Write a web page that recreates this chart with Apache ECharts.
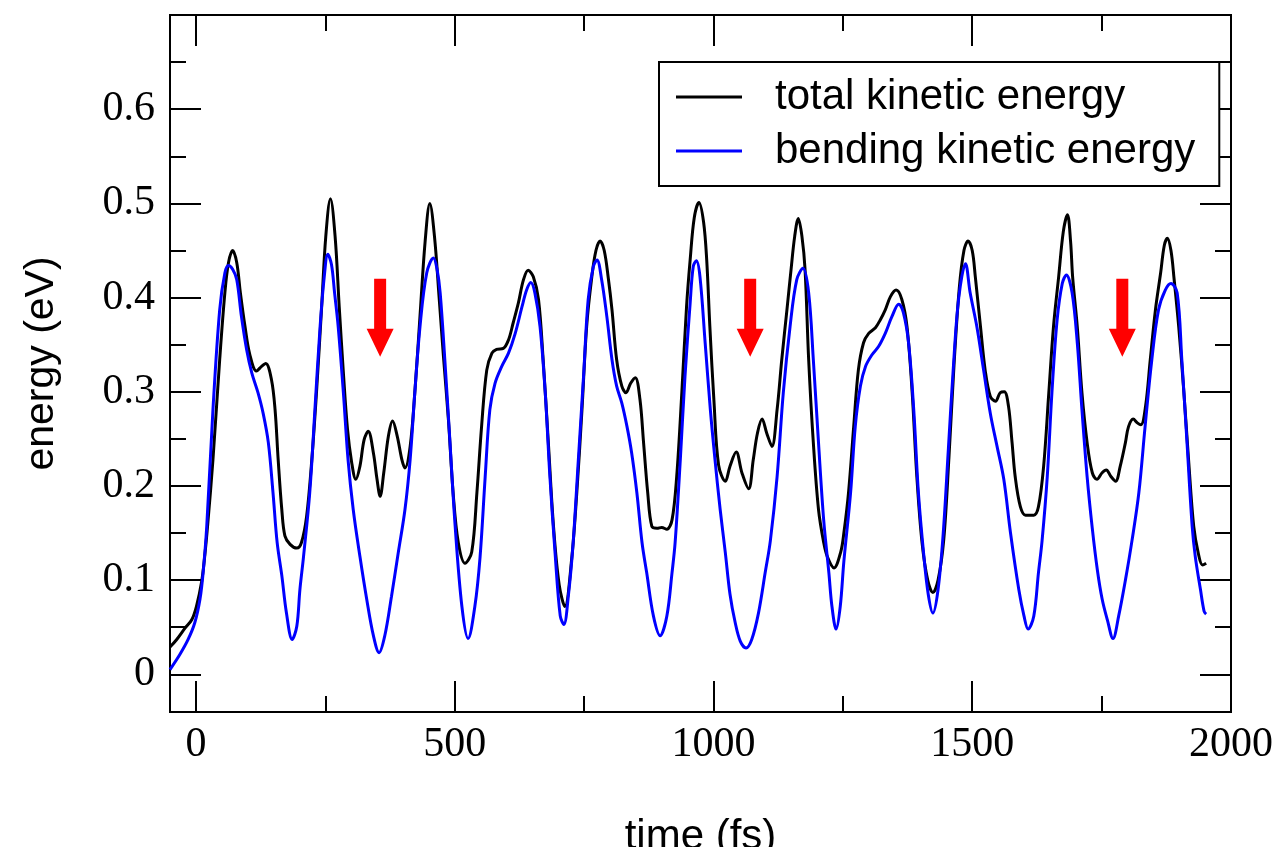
<!DOCTYPE html>
<html><head><meta charset="utf-8">
<script src="https://cdn.jsdelivr.net/npm/echarts@6/dist/echarts.min.js"></script>
<style>html,body{margin:0;padding:0;background:#fff}#c{width:1282px;height:847px}</style>
</head><body><div id="c"></div>
<script>
const totalTime = [-50,-37,-21,-8,1,11,17,23,33,46,56,63,71,79,86,95,104,117,127,135,146,153,159,166,172,182,195,204,214,224,233,243,251,260,269,277,285,293,301,309,317,325,333,343,350,356,363,372,380,389,398,404,414,423,433,443,452,461,470,478,488,497,507,520,533,543,552,562,572,581,594,604,613,623,633,642,652,662,671,681,691,702,713,726,736,746,755,765,773,781,789,797,804,813,823,831,840,849,858,865,873,881,891,900,910,920,929,939,948,955,963,972,981,987,993,1001,1010,1023,1032,1044,1055,1068,1077,1085,1094,1103,1113,1123,1132,1142,1150,1157,1164,1171,1177,1184,1193,1203,1213,1220,1233,1246,1252,1261,1271,1280,1290,1300,1313,1322,1332,1342,1353,1364,1374,1384,1393,1403,1414,1424,1434,1445,1455,1465,1475,1484,1492,1500,1506,1516,1525,1535,1545,1554,1562,1570,1577,1583,1593,1603,1619,1628,1638,1648,1657,1667,1676,1684,1690,1694,1703,1712,1722,1732,1741,1751,1759,1768,1777,1786,1796,1802,1811,1819,1826,1835,1844,1854,1864,1871,1877,1884,1890,1899,1909,1918,1928,1937,1945,1952];
const totalEnergy = [0.029,0.037,0.049,0.058,0.072,0.098,0.125,0.16,0.228,0.334,0.405,0.437,0.450,0.437,0.405,0.369,0.340,0.322,0.327,0.330,0.313,0.281,0.228,0.175,0.147,0.138,0.134,0.140,0.168,0.228,0.299,0.390,0.465,0.505,0.465,0.390,0.320,0.260,0.225,0.207,0.221,0.249,0.258,0.235,0.207,0.189,0.214,0.253,0.269,0.253,0.228,0.219,0.242,0.299,0.380,0.460,0.500,0.465,0.400,0.340,0.270,0.193,0.140,0.118,0.130,0.193,0.263,0.323,0.341,0.345,0.346,0.355,0.373,0.394,0.419,0.429,0.422,0.398,0.334,0.246,0.157,0.095,0.072,0.122,0.193,0.281,0.369,0.422,0.450,0.460,0.450,0.420,0.387,0.334,0.306,0.299,0.309,0.315,0.292,0.246,0.193,0.157,0.155,0.156,0.154,0.164,0.210,0.300,0.390,0.440,0.485,0.501,0.480,0.440,0.370,0.290,0.222,0.205,0.221,0.236,0.214,0.197,0.228,0.256,0.271,0.256,0.242,0.281,0.334,0.387,0.430,0.465,0.484,0.465,0.430,0.334,0.246,0.175,0.140,0.125,0.113,0.130,0.150,0.193,0.263,0.323,0.352,0.362,0.368,0.376,0.387,0.401,0.408,0.398,0.369,0.299,0.210,0.140,0.100,0.087,0.100,0.143,0.230,0.330,0.410,0.450,0.460,0.450,0.422,0.369,0.323,0.295,0.290,0.299,0.300,0.285,0.246,0.210,0.178,0.169,0.169,0.178,0.221,0.299,0.369,0.422,0.470,0.488,0.460,0.422,0.369,0.299,0.246,0.214,0.207,0.214,0.217,0.210,0.205,0.221,0.246,0.263,0.271,0.267,0.265,0.285,0.334,0.387,0.426,0.455,0.463,0.450,0.420,0.369,0.299,0.228,0.157,0.128,0.116,0.118];
const bendTime = [-50,-31,-15,-2,8,14,21,33,46,56,63,71,79,88,98,108,120,130,140,149,157,166,175,186,195,201,208,220,230,240,248,255,262,268,275,285,294,304,317,330,343,354,365,378,391,404,414,423,433,446,459,466,472,481,491,501,514,526,539,549,559,568,578,591,604,617,630,639,647,655,665,675,684,694,704,711,720,729,739,749,758,768,775,784,794,804,813,823,833,842,852,862,871,884,897,910,920,926,936,945,955,961,967,974,984,994,1003,1013,1023,1032,1042,1052,1063,1074,1087,1100,1110,1123,1135,1148,1161,1173,1184,1193,1203,1213,1223,1229,1237,1245,1252,1265,1274,1284,1294,1306,1319,1332,1345,1358,1367,1377,1387,1396,1406,1415,1424,1434,1444,1454,1464,1474,1487,1496,1509,1522,1535,1548,1561,1574,1590,1600,1608,1619,1628,1635,1645,1654,1664,1674,1682,1693,1703,1712,1722,1732,1742,1751,1761,1772,1783,1796,1809,1822,1834,1847,1860,1873,1884,1896,1905,1915,1925,1931,1941,1948,1952];
const bendEnergy = [0.005,0.021,0.037,0.055,0.080,0.108,0.157,0.281,0.387,0.426,0.434,0.430,0.419,0.380,0.345,0.320,0.299,0.277,0.246,0.193,0.140,0.105,0.065,0.037,0.051,0.090,0.125,0.193,0.281,0.369,0.422,0.446,0.435,0.405,0.369,0.299,0.228,0.175,0.125,0.080,0.041,0.023,0.041,0.083,0.129,0.175,0.228,0.299,0.369,0.426,0.442,0.430,0.405,0.334,0.246,0.157,0.072,0.038,0.072,0.124,0.210,0.281,0.309,0.327,0.341,0.362,0.390,0.408,0.416,0.405,0.369,0.299,0.210,0.129,0.062,0.053,0.085,0.140,0.228,0.316,0.398,0.433,0.440,0.419,0.380,0.334,0.306,0.288,0.263,0.235,0.193,0.140,0.108,0.062,0.041,0.062,0.108,0.140,0.228,0.316,0.394,0.433,0.439,0.422,0.352,0.281,0.228,0.175,0.129,0.085,0.055,0.035,0.028,0.037,0.065,0.108,0.142,0.210,0.299,0.369,0.419,0.431,0.405,0.334,0.246,0.164,0.108,0.072,0.048,0.072,0.120,0.193,0.263,0.306,0.327,0.339,0.348,0.362,0.380,0.393,0.384,0.352,0.281,0.193,0.129,0.085,0.065,0.090,0.150,0.240,0.330,0.400,0.436,0.405,0.369,0.323,0.277,0.242,0.207,0.150,0.090,0.062,0.048,0.062,0.108,0.142,0.210,0.299,0.376,0.415,0.424,0.405,0.352,0.281,0.210,0.155,0.110,0.080,0.058,0.038,0.062,0.100,0.143,0.193,0.263,0.334,0.387,0.408,0.415,0.405,0.334,0.246,0.157,0.125,0.090,0.067,0.064];
const xMajorTicks = [0, 500, 1000, 1500, 2000];
const xMinorTicks = [250, 750, 1250, 1750];
const yMajorTicks = [0, 0.1, 0.2, 0.3, 0.4, 0.5, 0.6];
const yMinorTicks = [0.05, 0.15, 0.25, 0.35, 0.45, 0.55, 0.65];
const arrowTimes = [356, 1071, 1790];
const arrowEnergy = 0.3785;
const seriesNames = ['total kinetic energy', 'bending kinetic energy'];

const pairs = (xs, ys) => xs.map((x, i) => [x, ys[i]]);
const serif = 'Liberation Serif';
const sans = 'Liberation Sans';
const X0 = -50, X1 = 2000, Y0 = -0.04, Y1 = 0.7;

function xAx(pos, ticks, len, labels, extra) {
  return Object.assign({
    type: 'value', position: pos, min: X0, max: X1,
    axisLine: { show: true, onZero: false, lineStyle: { color: '#000', width: 2 } },
    axisTick: { show: true, inside: true, length: len, customValues: ticks, lineStyle: { color: '#000', width: 2 } },
    axisLabel: labels ? { customValues: ticks, formatter: v => String(v), fontFamily: serif, fontSize: 42, color: '#000', margin: 12 } : { show: false },
    splitLine: { show: false }
  }, extra || {});
}
function yAx(pos, ticks, len, labels, extra) {
  return Object.assign({
    type: 'value', position: pos, min: Y0, max: Y1,
    axisLine: { show: true, onZero: false, lineStyle: { color: '#000', width: 2 } },
    axisTick: { show: true, inside: true, length: len, customValues: ticks, lineStyle: { color: '#000', width: 2 } },
    axisLabel: labels ? { customValues: ticks, formatter: v => String(v), fontFamily: serif, fontSize: 42, color: '#000', margin: 15 } : { show: false },
    splitLine: { show: false }
  }, extra || {});
}

const chart = echarts.init(document.getElementById('c'), null, { renderer: 'canvas' });
chart.setOption({
  animation: false,
  backgroundColor: '#fff',
  grid: { left: 170, right: 51, top: 15, bottom: 135, containLabel: false, outerBoundsMode: 'none' },
  xAxis: [
    xAx('bottom', xMajorTicks, 31, true, {
      name: 'time (fs)', nameLocation: 'middle', nameGap: 104,
      nameTextStyle: { fontFamily: sans, fontSize: 42, color: '#000' }
    }),
    xAx('bottom', xMinorTicks, 16, false),
    xAx('top', xMajorTicks, 31, false),
    xAx('top', xMinorTicks, 16, false)
  ],
  yAxis: [
    yAx('left', yMajorTicks, 31, true, {
      name: 'energy (eV)', nameLocation: 'middle', nameGap: 108,
      nameTextStyle: { fontFamily: sans, fontSize: 41, color: '#000' }
    }),
    yAx('left', yMinorTicks, 16, false),
    yAx('right', yMajorTicks, 31, false),
    yAx('right', yMinorTicks, 16, false)
  ],
  legend: {
    data: seriesNames,
    orient: 'vertical', left: 659, top: 62,
    padding: [13, 24, 13, 17], itemGap: 10,
    itemWidth: 66, itemHeight: 3, icon: 'rect',
    borderColor: '#000', borderWidth: 2, backgroundColor: '#fff',
    textStyle: { fontFamily: sans, fontSize: 42, lineHeight: 44, color: '#000', padding: [0, 0, 0, 28] }
  },
  series: [
    { name: seriesNames[0], type: 'line', data: pairs(totalTime, totalEnergy), showSymbol: false, symbol: 'none', smooth: 0.35,
      lineStyle: { color: '#000', width: 3 }, itemStyle: { color: '#000' } },
    { name: seriesNames[1], type: 'line', data: pairs(bendTime, bendEnergy), showSymbol: false, symbol: 'none', smooth: 0.35,
      lineStyle: { color: '#0000ff', width: 3 }, itemStyle: { color: '#0000ff' } },
    { name: 'arrows', type: 'scatter', data: arrowTimes.map(t => [t, arrowEnergy]),
      symbol: 'path://M7.5,0 L19.5,0 L19.5,50 L27,50 L13.5,78 L0,50 L7.5,50 Z',
      symbolSize: [27, 78], symbolKeepAspect: false, itemStyle: { color: '#ff0000', opacity: 1 }, silent: true, z: 5 }
  ]
});
</script></body></html>
